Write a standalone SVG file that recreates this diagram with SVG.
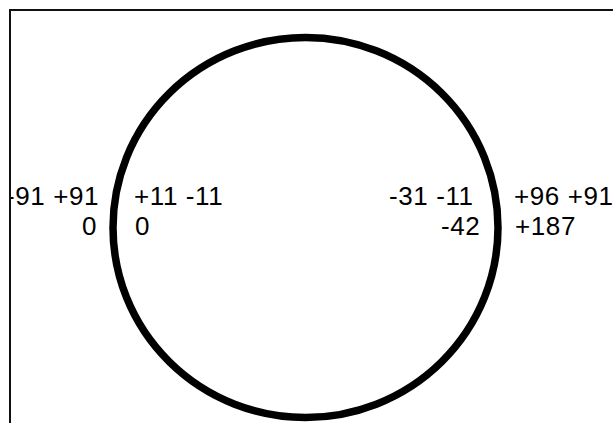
<svg xmlns="http://www.w3.org/2000/svg" width="613" height="423" viewBox="0 0 613 423">
  <style>
    .lbl { font-family: "Liberation Sans", Arial, sans-serif; font-size: 26px; fill: #000; letter-spacing: 0.6px; }
    .frame { fill: none; stroke: #111; stroke-width: 2; }
    .ring { fill: none; stroke: #000; stroke-width: 7.5; }
  </style>
  <defs>
    <clipPath id="inner">
      <rect x="11" y="11" width="602" height="412"/>
    </clipPath>
  </defs>
  <rect width="613" height="423" fill="#fff"/>
  <g id="frame">
    <path class="frame" d="M10,423 V10 H613"/>
  </g>
  <g id="circle" clip-path="url(#inner)">
    <ellipse class="ring" cx="305.5" cy="227.5" rx="192.5" ry="190"/>
  </g>
  <g id="labels" clip-path="url(#inner)">
    <g id="left-outer">
      <text class="lbl" x="6" y="205">-91 +91</text>
      <text class="lbl" x="82" y="235">0</text>
    </g>
    <g id="left-inner">
      <text class="lbl" x="134" y="205">+11 -11</text>
      <text class="lbl" x="135" y="235">0</text>
    </g>
    <g id="right-inner">
      <text class="lbl" x="389" y="205">-31 -11</text>
      <text class="lbl" x="441" y="235">-42</text>
    </g>
    <g id="right-outer">
      <text class="lbl" x="514" y="205">+96 +91</text>
      <text class="lbl" x="515" y="235">+187</text>
    </g>
  </g>
</svg>
